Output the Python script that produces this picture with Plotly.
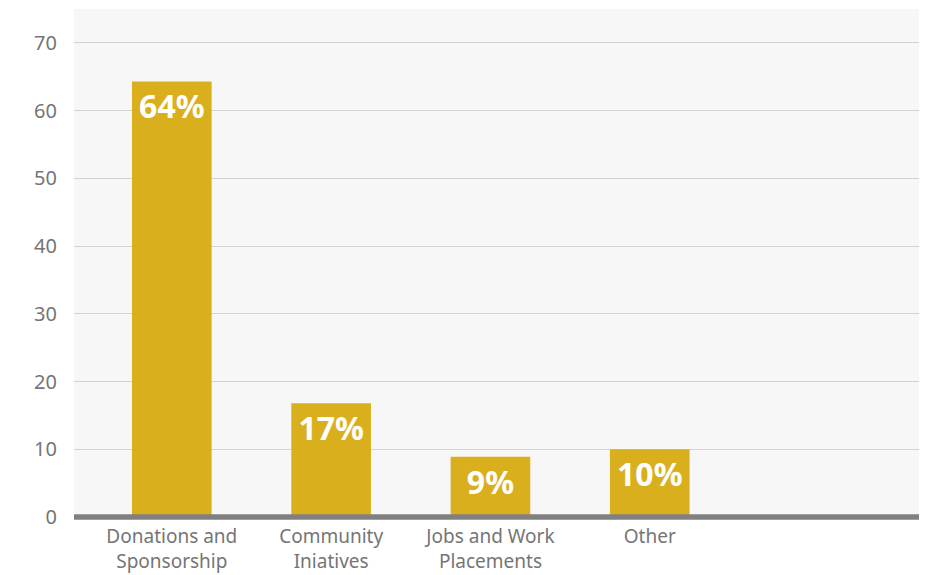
import plotly.graph_objects as go

categories = ["Donations and<br>Sponsorship", "Community<br>Iniatives", "Jobs and Work<br>Placements", "Other"]
values = [64.3, 16.8, 8.9, 10.0]
labels = ["64%", "17%", "9%", "10%"]
y_ticks = [0, 10, 20, 30, 40, 50, 60, 70]

BAR = "#DAAF1D"
FONT = "Noto Sans"

fig = go.Figure(go.Bar(
    x=categories, y=values, text=labels,
    marker=dict(color=BAR, line=dict(width=0)),
    width=0.5,
    textposition="inside", insidetextanchor="end",
    textangle=0,
    textfont=dict(family=FONT, size=32, color="white", weight="bold"),
    cliponaxis=False,
))

fig.add_shape(type="line", xref="paper", yref="paper", x0=0, x1=1, y0=0, y1=0,
              line=dict(color="#808080", width=5.5), layer="above")

fig.update_layout(
    width=922, height=567,
    margin=dict(l=66, r=11, t=1, b=58),
    paper_bgcolor="white", plot_bgcolor="#F7F7F7",
    showlegend=False,
    bargap=0.5,
    font=dict(family=FONT, color="#757575"),
    xaxis=dict(type="category", range=[-0.614, 4.69], showgrid=False, zeroline=False,
               showline=False, ticks="", tickfont=dict(size=19, color="#757575"),
               ticklabelstandoff=6, automargin=False),
    yaxis=dict(range=[0, 75], tickvals=y_ticks, showgrid=True, gridcolor="#D3D3D3",
               gridwidth=1, zeroline=False, showline=False, ticks="",
               tickfont=dict(size=20, color="#757575"), ticklabelstandoff=16,
               automargin=False),
)

fig.write_html("out.html")
